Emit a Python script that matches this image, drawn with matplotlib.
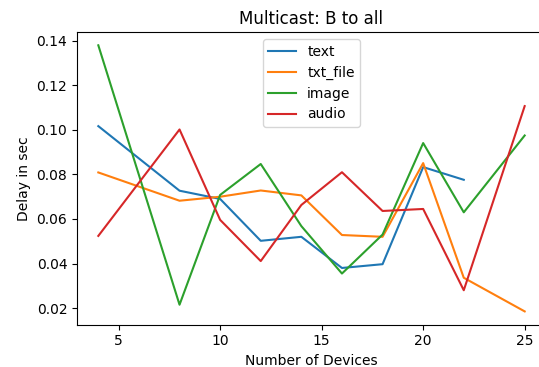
import numpy as np
import matplotlib
matplotlib.use("Agg")
import matplotlib.pyplot as plt

devices = [4, 8, 10, 12, 14, 16, 18, 20, 22, 25]
text_delay = [0.1017, 0.0727, 0.0690, 0.0502, 0.0520, 0.0380, 0.0397, 0.0833, 0.0776]
txt_file_delay = [0.0809, 0.0682, 0.0700, 0.0728, 0.0706, 0.0528, 0.0520, 0.0851, 0.0336, 0.0185]
image_delay = [0.1380, 0.0215, 0.0708, 0.0847, 0.0568, 0.0355, 0.0530, 0.0941, 0.0630, 0.0975]
audio_delay = [0.0524, 0.1002, 0.0596, 0.0411, 0.0663, 0.0810, 0.0636, 0.0645, 0.0280, 0.1107]

fig = plt.figure(figsize=(5.39, 3.67), dpi=100)
# the right side of the original axes is cut off by the crop
ax = fig.add_axes([77 / 539, 1 - 324.7 / 367, 469 / 539, (324.7 - 32) / 367])

ax.plot(devices[:len(text_delay)], text_delay, label="text")
ax.plot(devices, txt_file_delay, label="txt_file")
ax.plot(devices, image_delay, label="image")
ax.plot(devices, audio_delay, label="audio")

ax.set_xlabel("Number of Devices", fontsize=10)
ax.set_ylabel("Delay in sec", fontsize=10)
ax.set_title("Multicast: B to all", fontsize=12)
ax.tick_params(labelsize=10)
ax.spines["right"].set_visible(False)
ax.legend(loc="upper center", fontsize=10)

fig.savefig("out.png", dpi=100)
